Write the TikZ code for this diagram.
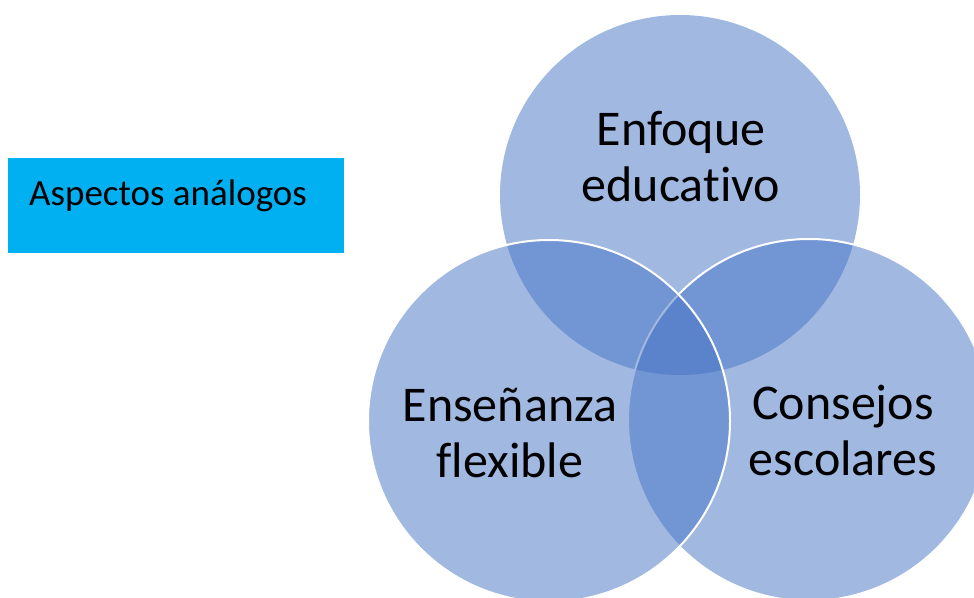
\documentclass[tikz,border=0pt]{standalone}
\usepackage{fontspec}
\setmainfont[Ligatures=NoCommon]{Carlito}
\definecolor{circblue}{HTML}{4472C4}
\definecolor{boxblue}{HTML}{00B0F0}
\tikzset{
  venn/.style={fill=circblue, fill opacity=0.5, draw=white, draw opacity=1, line width=2pt},
  venntext/.style={align=center, font=\fontsize{50}{56}\selectfont, text=black, inner sep=0pt},
  boxtext/.style={font=\fontsize{37}{44}\selectfont, text=black, inner sep=0pt, anchor=base west}
}
\begin{document}
\begin{tikzpicture}[x=1pt,y=-1pt]
\useasboundingbox (0,0) rectangle (974,597);
\clip (0,0) rectangle (974,597);
% label box
\fill[boxblue] (8,158) rectangle (344,253);
\node[boxtext] (label) at (29,205) {Aspectos análogos};
% circles
\path[venn, draw=none] (680,195) circle (180);
\path[venn] (809,420) circle (181);
\path[venn] (549,421) circle (181);
% circle texts (base anchor = last line's baseline)
\node[venntext, anchor=base] (top) at (681,201) {Enfoque\\educativo};
\node[venntext, anchor=base] (left) at (510,477) {Enseñanza\\flexible};
\node[venntext, anchor=base] (right) at (843,475) {Consejos\\escolares};
\end{tikzpicture}
\end{document}
